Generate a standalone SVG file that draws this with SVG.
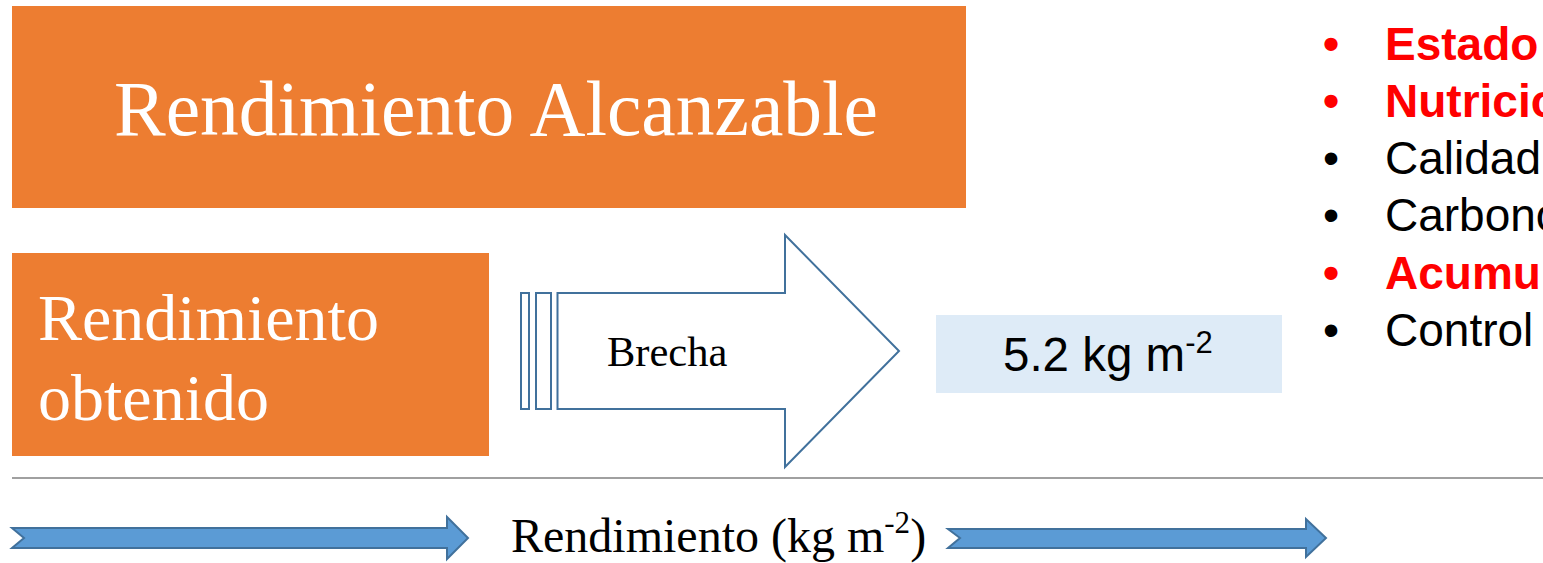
<svg xmlns="http://www.w3.org/2000/svg" width="1543" height="563" viewBox="0 0 1543 563">
<style>
.orange{fill:#ED7D31}
.serifW{font-family:"Liberation Serif","Times New Roman",serif;fill:#FFFFFF}
.serifB{font-family:"Liberation Serif","Times New Roman",serif;fill:#000000}
.sans{font-family:"Liberation Sans",Arial,sans-serif;font-size:46px}
.red{fill:#FF0000;font-weight:bold}
.blk{fill:#000000}
.outline{fill:#FFFFFF;stroke:#41719C;stroke-width:2}
.axis{fill:#5B9BD5;stroke:#41719C;stroke-width:2}
</style>
<rect width="1543" height="563" fill="#FFFFFF"/>
<g id="alcanzable">
<rect class="orange" x="12" y="6" width="954" height="202"/>
<text class="serifW" x="496" y="135" font-size="77.5" text-anchor="middle">Rendimiento Alcanzable</text>
</g>
<g id="obtenido">
<rect class="orange" x="12" y="253" width="477" height="203"/>
<text class="serifW" x="38" y="340" font-size="66">Rendimiento</text>
<text class="serifW" x="38" y="420" font-size="66">obtenido</text>
</g>
<g id="brecha">
<rect class="outline" x="521" y="293" width="8" height="116"/>
<rect class="outline" x="536" y="293" width="15" height="116"/>
<path class="outline" d="M557.5,293 L785,293 L785,235 L899,351 L785,467 L785,409 L557.5,409 Z"/>
<text class="serifB" x="607" y="366" font-size="42.5">Brecha</text>
</g>
<g id="valor">
<rect x="936" y="315" width="346" height="78" fill="#DEEBF7"/>
<text x="1003" y="371" style="font-family:'Liberation Sans',Arial,sans-serif;font-size:47.5px" fill="#000000">5.2 kg m<tspan style="font-size:31px" dy="-18">-2</tspan></text>
</g>
<g id="factores">
<text class="sans red" x="1323" y="60">•</text><text class="sans red" x="1385" y="60">Estado</text>
<text class="sans red" x="1323" y="117">•</text><text class="sans red" x="1385" y="117">Nutricio</text>
<text class="sans blk" x="1323" y="174">•</text><text class="sans blk" x="1385" y="174">Calidad</text>
<text class="sans blk" x="1323" y="231">•</text><text class="sans blk" x="1385" y="231">Carbono</text>
<text class="sans red" x="1323" y="289">•</text><text class="sans red" x="1385" y="289">Acumu</text>
<text class="sans blk" x="1323" y="346">•</text><text class="sans blk" x="1385" y="346">Control</text>
</g>
<g id="connectors">
<line x1="12" y1="478" x2="1543" y2="478" stroke="#A0A0A0" stroke-width="2"/>
<path class="axis" d="M12,528 L447,528 L447,517 L468,538 L447,559 L447,548 L12,548 L24,538 Z"/>
<path class="axis" d="M948,529 L1306,529 L1306,519 L1326,538 L1306,557 L1306,548 L948,548 L960,538 Z"/>
</g>
<g id="eje">
<text class="serifB" x="511" y="552" font-size="48">Rendimiento (kg m<tspan font-size="31" dy="-19">-2</tspan><tspan dy="19">)</tspan></text>
</g>
</svg>
